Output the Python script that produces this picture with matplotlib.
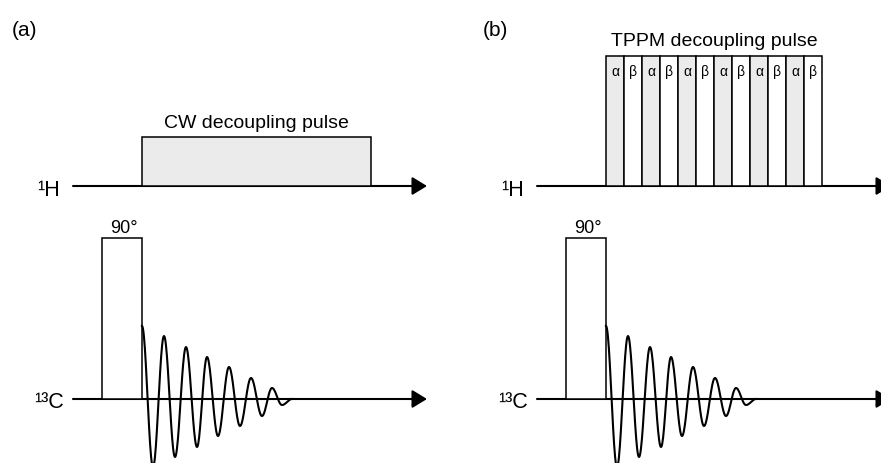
import numpy as np
import matplotlib.pyplot as plt
from matplotlib.patches import Rectangle, FancyArrowPatch

plt.rcParams['font.family'] = ['Liberation Sans', 'DejaVu Sans']

# both sequences share the same time axis; panel (b) is drawn shifted right
panel_labels = ['(a)', '(b)']
panel_shift = [0, 464]

h_level = 187      # 1H channel baseline
c_level = 400      # 13C channel baseline
axis_span = [73, 427]

# 13C excitation pulse
pulse90 = [102, 142]
pulse90_height = 161

# (a) continuous-wave decoupling
cw_pulse = [142, 371]
cw_height = 49
cw_title = 'CW decoupling pulse'

# (b) two-pulse phase-modulated decoupling
tppm_start = 142
tppm_step = 18
tppm_phases = ['α', 'β', 'α', 'β', 'α', 'β', 'α', 'β', 'α', 'β', 'α', 'β']
tppm_height = 130
tppm_title = 'TPPM decoupling pulse'

# FID extrema: time and signed amplitude
fid_time = [142, 153, 164, 175, 186, 197, 207, 218, 229, 240, 251, 262, 272, 282, 292]
fid_amp = [73, -68, 63, -58, 52, -48, 42, -37, 32, -27, 21, -17, 11, -6, 0]

box_grey = '#ebebeb'


def fid_curve(t, a):
    # join neighbouring extrema with half-cosine arcs
    xs, ys = [], []
    s = np.linspace(0, 1, 24)
    for i in range(len(t) - 1):
        xs.append(t[i] + (t[i + 1] - t[i]) * s)
        ys.append(a[i] + (a[i + 1] - a[i]) * (1 - np.cos(np.pi * s)) / 2)
    return np.concatenate(xs), np.concatenate(ys)


def channel_axis(ax, x0, y):
    ax.add_patch(FancyArrowPatch((x0 + axis_span[0], y), (x0 + axis_span[1], y),
                                 arrowstyle='-|>,head_length=0.9,head_width=0.55',
                                 mutation_scale=10, lw=1.5, color='black',
                                 shrinkA=0, shrinkB=0, zorder=2))


fig = plt.figure(figsize=(8.81, 4.64), dpi=100)
ax = fig.add_axes([0, 0, 1, 1])
ax.set_xlim(0, 881)
ax.set_ylim(464, 0)
ax.axis('off')

label_x = [12, 483]
for k, x0 in enumerate(panel_shift):
    ax.text(label_x[k], 30, panel_labels[k], fontsize=15, ha='left', va='center')

    # channel axes and labels
    channel_axis(ax, x0, h_level)
    channel_axis(ax, x0, c_level)
    ax.text(x0 + 37, h_level + 9, '¹H', fontsize=15.5, ha='left', va='baseline')
    ax.text(x0 + 34, c_level + 8, '¹³C', fontsize=15.5, ha='left', va='baseline')

    # 90 degree pulse on 13C
    ax.add_patch(Rectangle((x0 + pulse90[0], c_level - pulse90_height),
                           pulse90[1] - pulse90[0], pulse90_height,
                           facecolor='white', edgecolor='black', lw=1.1, zorder=3))
    ax.text(x0 + (pulse90[0] + pulse90[1]) / 2 + 2, c_level - pulse90_height - 6,
            '90°', fontsize=13, ha='center', va='baseline')

    # free induction decay
    fx, fy = fid_curve(fid_time, fid_amp)
    ax.plot(x0 + fx, c_level - fy, color='black', lw=1.5, zorder=3)

    if k == 0:
        ax.add_patch(Rectangle((x0 + cw_pulse[0], h_level - cw_height),
                               cw_pulse[1] - cw_pulse[0], cw_height,
                               facecolor=box_grey, edgecolor='black', lw=1.1, zorder=3))
        ax.text(x0 + (cw_pulse[0] + cw_pulse[1]) / 2, h_level - cw_height - 10,
                cw_title, fontsize=14, ha='center', va='baseline')
    else:
        for j, ph in enumerate(tppm_phases):
            left = x0 + tppm_start + j * tppm_step
            ax.add_patch(Rectangle((left, h_level - tppm_height), tppm_step, tppm_height,
                                   facecolor=box_grey if ph == 'α' else 'white',
                                   edgecolor='black', lw=1.1, zorder=3))
            ax.text(left + tppm_step / 2, h_level - tppm_height + 15, ph,
                    fontsize=10, ha='center', va='center', zorder=4)
        tppm_end = tppm_start + len(tppm_phases) * tppm_step
        ax.text(x0 + (tppm_start + tppm_end) / 2, h_level - tppm_height - 11,
                tppm_title, fontsize=14, ha='center', va='baseline')

fig.savefig('out.png', dpi=100)
